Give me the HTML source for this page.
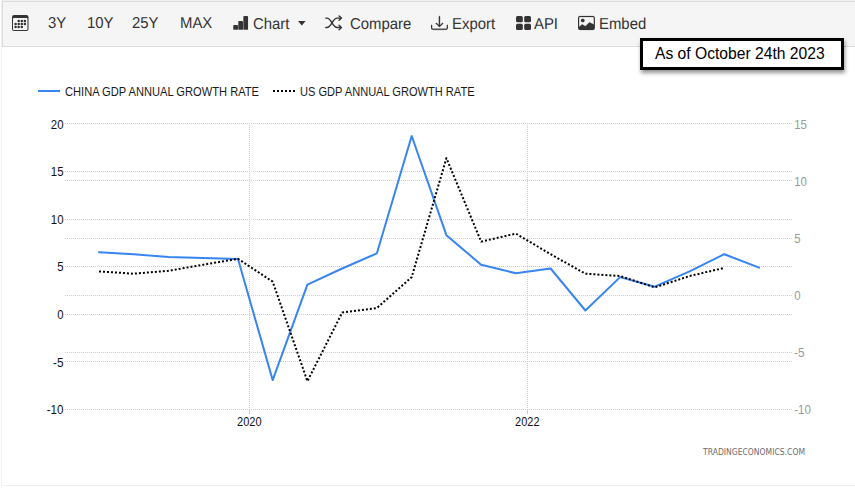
<!DOCTYPE html>
<html lang="en">
<head>
<meta charset="utf-8">
<title>China GDP Annual Growth Rate vs US GDP Annual Growth Rate</title>
<style>
  html, body { margin: 0; padding: 0; background: #ffffff; }
  body { width: 855px; height: 488px; position: relative; overflow: hidden;
         font-family: "Liberation Sans", Arial, sans-serif; color: #333333; }
  #frame { position: absolute; left: 1px; top: 0px; width: 860px; height: 486px;
           border: 1px solid #efefef; border-right: none; box-sizing: border-box; background: #fff; }
  #toolbar { position: absolute; left: 2px; top: 1px; width: 853px; height: 46px;
             box-sizing: border-box; background: #f5f5f5; border: 1px solid #dddddd; border-right: none; }
  .tb { position: absolute; top: 0.7px; height: 46px; line-height: 46px; font-size: 15.8px; text-rendering: geometricPrecision; color: #333333; white-space: nowrap; transform: scaleX(0.943); transform-origin: 0 50%; }
  .ico { position: absolute; fill: #333333; top: 14.9px; width: 16.9px; height: 15.9px; }
  #asof { position: absolute; left: 640px; top: 38px; width: 204px; height: 32px; box-sizing: border-box;
          border: 3px solid #000000; background: #ffffff; color: #000000;
          font-size: 16px; line-height: 25px; text-align: left; padding-left: 11.7px; white-space: nowrap;
          box-shadow: 0.5px 2.5px 4px rgba(0,0,0,0.42); }
  #chart { position: absolute; left: 0; top: 0; width: 855px; height: 488px; }
  #chart text { font-family: "Liberation Sans", Arial, sans-serif; }
</style>
</head>
<body>
<div id="frame"></div>

<svg id="chart" width="855" height="488" viewBox="0 0 855 488">
  <!-- gridlines: left axis -->
  <g stroke="#cfcfcf" stroke-width="1" stroke-dasharray="1,1" fill="none" shape-rendering="crispEdges">
    <path d="M65 123.5H792"/>
    <path d="M65 171.5H792"/>
    <path d="M65 219.5H792"/>
    <path d="M65 266.5H792"/>
    <path d="M65 314.5H792"/>
    <path d="M65 361.5H792"/>
    <path d="M65 409.5H792"/>
    <!-- right axis -->
    <path d="M65 180.5H792"/>
    <path d="M65 238.5H792"/>
    <path d="M65 295.5H792"/>
    <path d="M65 352.5H792"/>
    <!-- vertical -->
    <path d="M249.5 123V410"/>
    <path d="M527.5 123V410"/>
  </g>
  <g stroke="#c9c9c9" stroke-width="1" fill="none" shape-rendering="crispEdges">
    <path d="M249.5 409.5V413.5"/>
    <path d="M527.5 409.5V413.5"/>
  </g>

  <!-- legend -->
  <path d="M38 91H60" stroke="#3785f1" stroke-width="2" fill="none"/>
  <text x="65" y="96" font-size="12.4" fill="#1a1a1a" textLength="194" lengthAdjust="spacingAndGlyphs">CHINA GDP ANNUAL GROWTH RATE</text>
  <path d="M273 91H295" stroke="#000000" stroke-width="2" stroke-dasharray="2,2" fill="none"/>
  <text x="300" y="96" font-size="12.4" fill="#1a1a1a" textLength="174.6" lengthAdjust="spacingAndGlyphs">US GDP ANNUAL GROWTH RATE</text>

  <!-- left axis labels -->
  <g font-size="12.4" fill="#111111" text-anchor="end">
    <text x="63.5" y="128.5" textLength="12.7" lengthAdjust="spacingAndGlyphs">20</text>
    <text x="63.5" y="175.5" textLength="12.7" lengthAdjust="spacingAndGlyphs">15</text>
    <text x="63.5" y="223.5" textLength="12.7" lengthAdjust="spacingAndGlyphs">10</text>
    <text x="63.5" y="270.5" textLength="6.3" lengthAdjust="spacingAndGlyphs">5</text>
    <text x="63.5" y="318.5" textLength="6.3" lengthAdjust="spacingAndGlyphs">0</text>
    <text x="63.5" y="366.5" textLength="10.5" lengthAdjust="spacingAndGlyphs">-5</text>
    <text x="63.5" y="413.5" textLength="16.8" lengthAdjust="spacingAndGlyphs">-10</text>
  </g>
  <!-- right axis labels -->
  <g font-size="12.4" fill="#999999" text-anchor="start">
    <text x="794.2" y="128.5" textLength="12.7" lengthAdjust="spacingAndGlyphs">15</text>
    <text x="794.2" y="185.5" textLength="12.7" lengthAdjust="spacingAndGlyphs">10</text>
    <text x="794.2" y="242.5" textLength="6.35" lengthAdjust="spacingAndGlyphs">5</text>
    <text x="794.2" y="299.5" textLength="6.35" lengthAdjust="spacingAndGlyphs">0</text>
    <text x="794.2" y="356.5" textLength="10.5" lengthAdjust="spacingAndGlyphs">-5</text>
    <text x="794.2" y="413.5" textLength="16.8" lengthAdjust="spacingAndGlyphs">-10</text>
  </g>
  <!-- x axis labels -->
  <g font-size="12.4" fill="#111111" text-anchor="middle">
    <text x="249.3" y="425.6" textLength="24.4" lengthAdjust="spacingAndGlyphs">2020</text>
    <text x="527.3" y="425.6" textLength="24.4" lengthAdjust="spacingAndGlyphs">2022</text>
  </g>

  <!-- series: China (blue) -->
  <path id="cn" fill="none" stroke="#3785f1" stroke-width="2" stroke-linejoin="round" stroke-linecap="round"
        d="M99.0 252.3L133.7 254.2L168.5 257.1L203.2 258.1L238.0 259.0L272.7 380.1L307.4 284.7L342.2 268.5L376.9 253.3L411.7 136.0L446.4 235.2L481.1 264.7L515.9 273.3L550.6 268.5L585.4 310.5L620.1 277.1L654.8 286.7L689.6 271.4L724.3 254.2L759.1 267.6"/>
  <!-- series: US (dotted) -->
  <path id="us" fill="none" stroke="#000000" stroke-width="2" stroke-dasharray="2,2" stroke-linejoin="round"
        d="M99.0 271.4L133.7 273.7L168.5 270.8L203.2 264.7L238.0 258.8L272.7 281.7L307.4 381.2L342.2 312.6L376.9 308.0L411.7 277.1L446.4 158.1L481.1 241.6L515.9 233.6L550.6 254.2L585.4 273.7L620.1 276.0L654.8 287.4L689.6 276.0L724.3 267.9"/>

  <text x="703" y="455.1" font-size="8.6" fill="#6e6e6e" textLength="102" lengthAdjust="spacingAndGlyphs" style="font-family:'DejaVu Sans','Liberation Sans',sans-serif">TRADINGECONOMICS.COM</text>
</svg>

<div id="toolbar"></div>

<!-- toolbar icons -->
<svg class="ico" style="left:12.1px;top:14.9px;width:16.5px;height:16px" viewBox="0 0 16 16" preserveAspectRatio="none"><path d="M14 0H2a2 2 0 0 0-2 2v12a2 2 0 0 0 2 2h12a2 2 0 0 0 2-2V2a2 2 0 0 0-2-2zM1 3.857C1 3.384 1.448 3 2 3h12c.552 0 1 .384 1 .857v10.286c0 .473-.448.857-1 .857H2c-.552 0-1-.384-1-.857V3.857z"/><g><circle cx="6.5" cy="6" r="1.22"/><circle cx="9.5" cy="6" r="1.22"/><circle cx="12.5" cy="6" r="1.22"/><circle cx="3.5" cy="9" r="1.22"/><circle cx="6.5" cy="9" r="1.22"/><circle cx="9.5" cy="9" r="1.22"/><circle cx="12.5" cy="9" r="1.22"/><circle cx="3.5" cy="12" r="1.22"/><circle cx="6.5" cy="12" r="1.22"/><circle cx="9.5" cy="12" r="1.22"/></g></svg>
<div class="tb" style="left:47.7px">3Y</div>
<div class="tb" style="left:86.7px">10Y</div>
<div class="tb" style="left:132.2px">25Y</div>
<div class="tb" style="left:179.7px">MAX</div>
<svg class="ico" style="left:233px;top:15px;width:16px;height:16px" viewBox="0 0 16 16"><rect x="0.25" y="9.9" width="4.7" height="4.9" rx="0.9"/><rect x="5.3" y="6" width="4.7" height="8.8" rx="0.9"/><rect x="10.35" y="0.9" width="4.7" height="13.9" rx="0.9"/></svg>
<div class="tb" style="left:252.7px;top:1.9px">Chart</div>
<svg class="ico" style="left:298.3px;top:21px;width:7.6px;height:4.5px" viewBox="0 0 8 4.6" preserveAspectRatio="none"><path d="M0 0H8L4 4.6z"/></svg>
<svg class="ico" style="left:325px;top:15.3px;width:18px;height:16px" viewBox="0 0 18 16"><g fill="none" stroke="#333333" stroke-width="1.4" stroke-linecap="round" stroke-linejoin="round"><path d="M0.8 3.1H1.8C6.6 3.1 7.4 12.5 12.2 12.5H16"/><path d="M0.8 12.5H1.8C6.6 12.5 7.4 3.1 12.2 3.1H16"/><path d="M14.1 0.9L16.4 3.1L14.1 5.3"/><path d="M14.1 10.3L16.4 12.5L14.1 14.7"/></g></svg>
<div class="tb" style="left:349.7px;top:1.9px">Compare</div>
<svg class="ico" style="left:431.1px;stroke:#333333;stroke-width:0.3px" viewBox="0 0 16 16" preserveAspectRatio="none"><path d="M.5 9.900a.5.5 0 0 1 .5.5v2.500a1 1 0 0 0 1 1h12a1 1 0 0 0 1-1v-2.500a.5.5 0 0 1 1 0v2.500a2 2 0 0 1-2 2H2a2 2 0 0 1-2-2v-2.500a.5.5 0 0 1 .5-.5z"/><path d="M7.646 11.854a.5.5 0 0 0 .708 0l3-3a.5.5 0 0 0-.708-.708L8.500 10.293V1.500a.5.5 0 0 0-1 0v8.793L5.354 8.146a.5.5 0 1 0-.708.708l3 3z"/></svg>
<div class="tb" style="left:451.7px;top:1.9px">Export</div>
<svg class="ico" style="left:516px;top:15px;width:16px;height:16px" viewBox="0 0 16 16"><rect x="0" y="1" width="6.8" height="6.2" rx="1.5"/><rect x="8.2" y="1" width="6.8" height="6.2" rx="1.5"/><rect x="0" y="8.8" width="6.8" height="6.2" rx="1.5"/><rect x="8.2" y="8.8" width="6.8" height="6.2" rx="1.5"/></svg>
<div class="tb" style="left:533.7px;top:1.9px">API</div>
<svg class="ico" style="left:578.2px;stroke:#333333;stroke-width:0.2px" viewBox="0 0 16 16" preserveAspectRatio="none"><circle cx="4.5" cy="5.5" r="1.7"/><path d="M2.002 1a2 2 0 0 0-2 2v10a2 2 0 0 0 2 2h12a2 2 0 0 0 2-2V3a2 2 0 0 0-2-2h-12zm12 1a1 1 0 0 1 1 1v6.500l-3.777-1.947a.5.5 0 0 0-.577.093l-3.710 3.710-2.660-1.772a.5.5 0 0 0-.630.062L1.002 12V3a1 1 0 0 1 1-1h12z"/></svg>
<div class="tb" style="left:598.7px;top:1.9px">Embed</div>

<div id="asof"><span style="display:inline-block;transform:scaleX(0.978);transform-origin:0 50%">As of October 24th 2023</span></div>
</body>
</html>
